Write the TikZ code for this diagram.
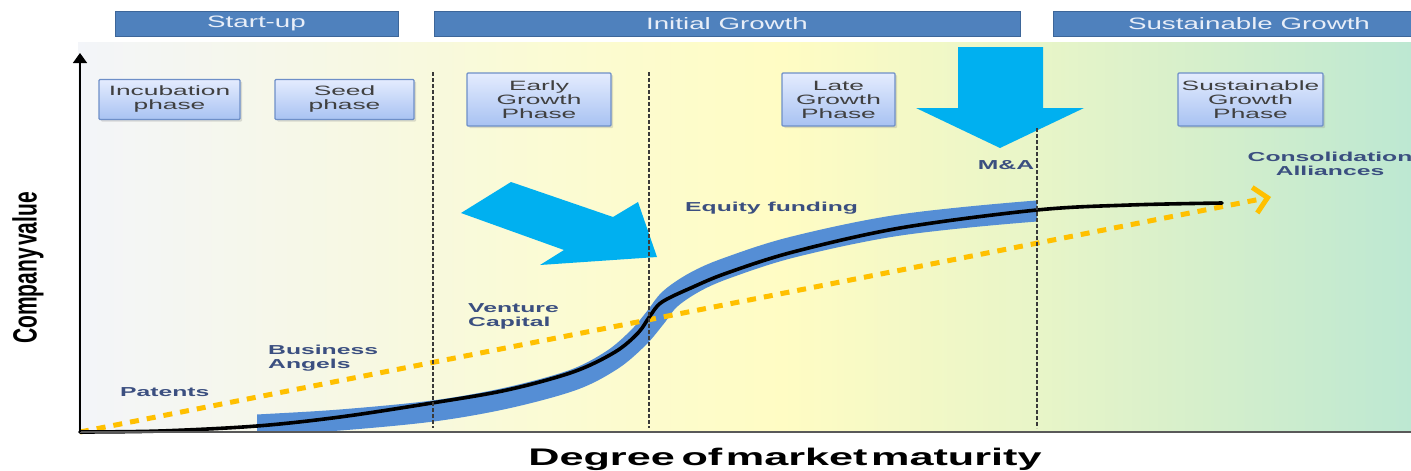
\documentclass[tikz,border=0pt]{standalone}
\usepackage{fontspec}
\setmainfont{Liberation Sans}
\newfontfamily\hdrfont[FakeStretch=1.68]{Liberation Sans}
\newfontfamily\boxfont[FakeStretch=1.95]{Liberation Sans}
\newfontfamily\lblfont[FakeStretch=1.9]{Liberation Sans}
\newfontfamily\axfont[FakeStretch=1.8]{Liberation Sans}
\usetikzlibrary{arrows.meta,shadows}
\definecolor{bg0}{HTML}{F3F5F9}
\definecolor{bg1}{HTML}{F8F9DD}
\definecolor{bg2}{HTML}{FBFBD3}
\definecolor{bg3}{HTML}{FFFCC4}
\definecolor{bg4}{HTML}{E8F5C8}
\definecolor{bg5}{HTML}{D6EFCB}
\definecolor{bg6}{HTML}{BDE8D2}
\definecolor{hdrblue}{HTML}{4F81BD}
\definecolor{hdrborder}{HTML}{3D6699}
\definecolor{hdrtext}{HTML}{E8EEF8}
\definecolor{boxtop}{HTML}{E4ECFE}
\definecolor{boxbot}{HTML}{A8C2F2}
\definecolor{boxborder}{HTML}{6E8FC8}
\definecolor{boxtext}{HTML}{404040}
\definecolor{lblcol}{HTML}{3B4F80}
\definecolor{bandblue}{HTML}{558ED5}
\definecolor{cyanarrow}{HTML}{00B0F0}
\definecolor{gold}{HTML}{FFC000}
\definecolor{dotgray}{HTML}{3A3A3A}
\pgfdeclarehorizontalshading{bgshade}{100bp}{color(0bp)=(bg0); color(25bp)=(bg0); color(38.3bp)=(bg1); color(43bp)=(bg2); color(51.4bp)=(bg3); color(61bp)=(bg4); color(67bp)=(bg5); color(75bp)=(bg6); color(100bp)=(bg6)}
\begin{document}
\begin{tikzpicture}[x=1pt,y=-1pt,
  hdr/.style={draw=hdrborder, fill=hdrblue, line width=0.8pt, minimum height=25pt, inner sep=0pt, text=hdrtext, font=\hdrfont\fontsize{16.5}{18}\selectfont},
  phasebox/.style={draw=boxborder, line width=1.2pt, top color=boxtop, bottom color=boxbot, rounded corners=1pt,
    drop shadow={shadow xshift=2pt, shadow yshift=-2pt, opacity=0.25}, align=center, text=boxtext, inner sep=0pt,
    font=\boxfont\fontsize{13.5}{14}\selectfont},
  lbl/.style={inner sep=0pt, text=lblcol, font=\lblfont\bfseries\fontsize{13}{14}\selectfont},
  dotline/.style={draw=dotgray, line width=2.6pt, dash pattern=on 3.5pt off 2.5pt},
  bigarrow/.style={fill=cyanarrow},
  band/.style={draw=bandblue, line width=21pt},
  scurve/.style={draw=black, line width=3.6pt, line cap=round},
  ydash/.style={draw=gold, line width=5pt, dash pattern=on 9pt off 8pt, -{Straight Barb[length=13pt,width=26pt]}}
]
\useasboundingbox (0,0) rectangle (1411,471);
\fill[white] (0,0) rectangle (1411,471);
\shade[shading=bgshade] (78,42) rectangle (1411,432);

% header bars
\node[hdr, minimum width=283pt] (h1) at (256.5,23.5) {Start-up};
\node[hdr, minimum width=586pt] (h2) at (727,23.5) {Initial Growth};
\node[hdr, minimum width=392pt] (h3) at (1249,23.5) {Sustainable Growth};

% phase boxes
\node[phasebox, minimum width=141pt, minimum height=40pt] (inc) at (169.5,99.5) {Incubation\\phase};
\node[phasebox, minimum width=139pt, minimum height=40pt] (seed) at (344.5,99.5) {Seed\\phase};
\node[phasebox, minimum width=144pt, minimum height=53pt] (early) at (539,99.5) {Early\\Growth\\Phase};
\node[phasebox, minimum width=113pt, minimum height=53pt] (late) at (838.5,99.5) {Late\\Growth\\Phase};
\node[phasebox, minimum width=145pt, minimum height=53pt] (sust) at (1250.5,99.5) {Sustainable\\Growth\\Phase};

% coordinates
\coordinate (O) at (80,432);
\coordinate (ytop) at (80,53);
\coordinate (xend) at (1411,432);
\coordinate (yend) at (1271,197);
\coordinate (d1a) at (433,72);  \coordinate (d1b) at (433,428);
\coordinate (d2a) at (649,72);  \coordinate (d2b) at (649,428);
\coordinate (d3a) at (1037,128); \coordinate (d3b) at (1037,428);

% blue band
\begin{scope}
\clip (257,0) rectangle (1037,432);
\draw[band] plot[smooth, tension=0.55] coordinates {(200,428) (257,425) (340,420) (433,411) (507,398) (573,380) (612,360) (638,338) (655,318) (670,299) (695,282) (727,268) (793,247) (900,225) (1037,211) (1100,210)};
\end{scope}

% cyan arrows
\fill[bigarrow] (958,47) -- (1043,47) -- (1043,108) -- (1084,108) -- (1000,148) -- (916,108) -- (958,108) -- cycle;
\fill[bigarrow] (511,182) -- (613,217) -- (638,202) -- (657,257) -- (540,265) -- (564,250) -- (461,213) -- cycle;

% yellow dashed trend
\draw[ydash] (O) -- (yend);

% S curve
\draw[scurve] plot[smooth, tension=0.55] coordinates {(80,432) (160,431) (257,426) (340,417) (432,403) (507,390) (573,372) (615,352) (638,333) (650,316) (662,302) (693,287) (727,273) (793,252) (900,228) (1037,210) (1130,205) (1222,203)};

% dotted separators
\draw[dotline] (d1a) -- (d1b);
\draw[dotline] (d2a) -- (d2b);
\draw[dotline] (d3a) -- (d3b);

% axes
\draw[draw=black!65, line width=2pt] (O) -- (xend);
\draw[line width=1.5pt, -{Triangle[length=10pt,width=14pt]}] (O) -- (ytop);

% labels
\node[lbl, anchor=west] (patents) at (120,392) {Patents};
\node[lbl, anchor=west, align=left] (ba) at (268,358) {Business\\Angels};
\node[lbl, anchor=west, align=left] (vc) at (468,316.5) {Venture\\Capital};
\node[lbl, anchor=west] (eq) at (685,208) {Equity funding};
\node[lbl] (ma) at (1006,165) {M\&A};
\node[lbl, align=center] (cons) at (1330,163.5) {Consolidation\\Alliances};

% axis titles
\node[inner sep=0pt] (ylab) at (28,268) {\scalebox{1.6}[1]{\rotatebox{90}{\bfseries\fontsize{21}{21}\selectfont Company\hspace{0.1em}value}}};
\node[inner sep=0pt] (xlab) at (785,459) {\axfont\bfseries\fontsize{24}{24}\selectfont Degree\hspace{0.28em}of\hspace{0.15em}market\hspace{0.15em}maturity};
\end{tikzpicture}
\end{document}
